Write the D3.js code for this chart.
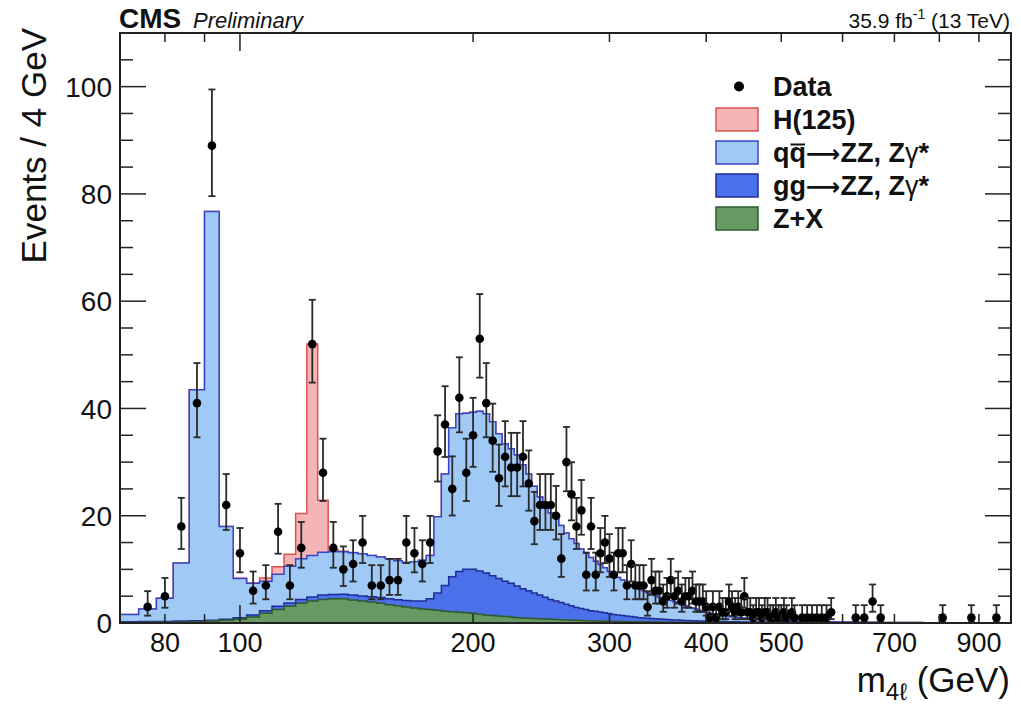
<!DOCTYPE html>
<html><head><meta charset="utf-8">
<script src="https://cdn.jsdelivr.net/npm/d3@7"></script>
<style>body{margin:0;background:#fff}svg{display:block}</style>
</head><body>
<svg id="chart" width="1021" height="706"></svg>
<script>
// ---- binning: 4 GeV bins starting at 70 GeV ----
const binStart = 70;
const binWidth = 4;

// ---- stacked MC (events / bin), first bin centre 72 GeV; missing entries = 0 ----
const qqZZ = [
 1.35,2.33,4.30,10.85,43.10,76.20,17.30,7.30,5.90,5.50,6.00,6.85,7.60,7.75,8.00,8.00,7.95,
 7.90,7.85,7.70,7.55,7.50,7.25,7.10,7.30,7.60,8.10,14.20,20.80,27.80,29.40,29.10,29.30,29.80,
 29.70,28.70,27.00,25.60,25.10,24.40,23.10,21.80,19.90,18.30,16.70,16.10,15.40,14.40,13.30,12.50,11.90,
 11.10,10.50,9.90,9.30,8.85,8.40,7.85,7.50,7.00,6.60,6.20,5.90,5.60,5.30,5.05,4.80,4.55,
 4.30,4.05,3.90,3.75,3.58,3.37,3.16,2.94,2.72,2.54,2.37,2.14,1.97,1.78,1.65,1.52,1.40,
 1.30,1.21,1.12,1.04,0.97,0.91,0.86,0.79,0.76,0.72,0.70,0.66,0.63,0.59,0.56,0.53,0.50,
 0.46,0.44,0.43,0.41,0.39,0.39,
 0.37,0.36,0.35,0.34,0.33,0.32,0.31,0.30,0.29,0.29,0.28,0.27,0.26,0.26,0.25,0.24,0.24,0.23,0.22,0.22,0.21,0.21,0.20,0.20,0.19,
 0.19,0.18,0.18,0.17,0.17,0.16,0.16,0.16,0.15,0.15,0.14,0.14,0.14,0.13,0.13,0.13,0.12,0.12,0.12,0.11,0.11,0.11,0.10,0.10,0.10,
 0.10,0.09,0.09,0.09,0.09,0.08,0.08,0.08,0.08,0.08,0.07,0.07,0.07,0.07,0.07,0.06,0.06,0.06,0.06,0.06,0.06,0.05,0.05,0.05,0.05,
 0.05,0.05,0.05,0.04,0.04,0.04,0.04,0.04,0.04,0.04,0.04,0.04,0.03,0.03,0.03,0.03,0.03,0.03,0.03,0.03,0.03,0.03,0.03,0.02,0.02,
 0.02,0.02,0.02,0.02,0.02,0.02,0.02,0.02,0.02,0.02,0.02,0.02,0.02,0.02,0.02,0.02,0.02,0.02,0.02,0.02,0.02,0.02
];
const ggZZ = [
 0.15,0.15,0.15,0.15,0.15,0.15,0.20,0.30,0.40,0.50,0.60,0.65,0.70,0.75,0.80,0.80,0.85,
 0.90,0.95,1.00,1.05,1.10,1.15,1.20,1.30,1.50,2.00,3.20,4.80,6.50,7.60,8.10,8.20,8.05,
 7.80,7.40,7.00,6.60,6.30,5.90,5.45,5.10,4.75,4.40,4.05,3.70,3.45,3.20,2.94,2.68,2.41,
 2.24,2.07,1.90,1.82,1.69,1.56,1.43,1.30,1.22,1.13,1.05,0.96,0.87,0.78,0.74,0.70,0.66,
 0.62,0.58,0.54,0.50,0.47,0.44,0.41,0.38,0.36,0.34,0.32,0.30,0.28,0.27,0.26,0.24,0.23,
 0.22,0.21,0.20,0.19,0.18,0.17,0.16,0.15,0.14,0.14,0.13,0.13,0.12,0.12,0.11,0.11,0.10,
 0.10,0.10,0.09,0.09,0.09,0.08
];
const zPlusX = [
 0.10,0.12,0.15,0.20,0.25,0.35,0.50,0.70,1.10,1.80,2.50,3.10,3.70,4.10,4.40,4.50,4.50,
 4.30,4.10,3.90,3.70,3.40,3.20,3.00,2.80,2.60,2.50,2.40,2.20,2.10,2.00,1.90,1.80,1.65,
 1.50,1.40,1.30,1.20,1.10,1.00,0.95,0.90,0.85,0.80,0.75,0.70,0.65,0.60,0.56,0.52,0.49,
 0.46,0.43,0.40,0.38,0.36,0.34,0.32,0.30,0.28,0.27,0.25,0.24,0.23,0.22,0.21,0.20,0.19,
 0.18,0.17,0.16,0.15,0.15,0.14,0.13,0.13,0.12,0.12,0.11,0.11,0.10,0.10,0.09,0.09,0.09,
 0.08,0.08,0.08,0.07,0.07,0.07,0.06,0.06,0.06,0.06,0.05,0.05,0.05,0.05,0.05,0.04,0.04,
 0.04,0.04,0.04,0.04,0.04,0.03
];
const higgs125 = [0,0,0,0,0,0,0,0.02,0.05,0.6,1.4,2.2,8.4,39.4,9.7,0.3,0.1,0.05];

// ---- data (bin centre, observed events) ----
const dataMass = [76,80,84,88,92,96,100,104,108,112,116,120,124,128,132,136,140,144,148,152,156,160,164,168,172,176,
 180,184,188,192,196,200,204,208,212,216,220,224,228,232,236,240,244,248,252,256,260,264,268,272,276,280,284,288,
 292,296,300,304,308,312,316,320,324,328,332,336,340,344,348,352,356,360,364,368,372,376,380,384,388,392,396,400,
 404,408,412,416,420,424,428,432,436,440,444,448,452,456,460,464,468,472,476,480,484,488,492,496,500,504,508,516,
 520,532,540,548,556,564,572,580,624,640,656,672,808,880,948];
const dataCount = [3,5,18,41,89,22,13,6,7,17,7,14,52,28,14,10,11,15,7,7,8,8,15,13,11,15,
 32,37,25,42,28,35,53,41,34,27,31,29,29,31,26,19,22,22,22,20,12,30,24,18,21,9,18,9,
 13,15,12,9,13,13,7,11,7,7,7,3,8,6,6,4,5,8,5,6,4,5,5,6,4,4,4,3,
 1,3,1,3,2,2,4,3,2,3,2,5,2,2,1,2,2,1,2,2,1,1,2,1,1,2,1,2,
 1,1,1,1,1,1,1,2,1,1,4,1,1,1,1];

// ---- axes ----
const xDomain = [70, 990];
const yDomain = [0, 110];
const xTickValues = [80,90,100,200,300,400,500,600,700,800,900];
const xTickLabels = [80,100,200,300,400,500,700,900];
const xMajorTicks = [100];
const yTickLabels = [0,20,40,60,80,100];

const legendLabels = ["Data","H(125)","qq\u27f6ZZ, Z\u03b3*","gg\u27f6ZZ, Z\u03b3*","Z+X"];
const colors = {
  higgs:{fill:"#f5b4b6", stroke:"#d9534f"},
  qq:{fill:"#a0c9f6", stroke:"#3a44c8"},
  gg:{fill:"#4a70ea", stroke:"#1f2c96"},
  zx:{fill:"#679a63", stroke:"#2f5a2c"}
};

const FONT = "'Liberation Sans', Arial, Helvetica, sans-serif";
const W = 1021, H = 706;
const L = 120, R = 1011, T = 33, B = 623;
const svg = d3.select("#chart");
svg.append("rect").attr("width",W).attr("height",H).attr("fill","#fff");

const x = d3.scaleLog().domain(xDomain).range([L,R]);
const y = d3.scaleLinear().domain(yDomain).range([B,T]);

svg.append("clipPath").attr("id","clip").append("rect")
  .attr("x",L).attr("y",T).attr("width",R-L).attr("height",B-T);
const plot = svg.append("g").attr("clip-path","url(#clip)");

const nBins = qqZZ.length;
const cumZX=[], cumGG=[], cumQQ=[], cumH=[];
for(let i=0;i<nBins;i++){
  const a = zPlusX[i]||0;
  const b = a + (ggZZ[i]||0);
  const c = b + (qqZZ[i]||0);
  const d = c + (higgs125[i]||0);
  cumZX.push(a); cumGG.push(b); cumQQ.push(c); cumH.push(d);
}
function stepPath(vals){
  let p = `M${x(binStart)},${y(0)}`;
  vals.forEach((v,i)=>{
    const lo = binStart + i*binWidth, hi = lo + binWidth;
    p += `L${x(lo)},${y(v)}L${x(hi)},${y(v)}`;
  });
  p += `L${x(binStart + vals.length*binWidth)},${y(0)}Z`;
  return p;
}
[[cumH,colors.higgs],[cumQQ,colors.qq],[cumGG,colors.gg],[cumZX,colors.zx]].forEach(([vals,c])=>{
  plot.append("path").attr("d",stepPath(vals)).attr("fill",c.fill)
    .attr("stroke",c.stroke).attr("stroke-width",1.5).attr("stroke-linejoin","miter");
});

// ---- data with Poisson (Gehrels) intervals ----
function lowErr(n){ if(n<=0) return 0; const t = 1 - 1/(9*n) - 1/(3*Math.sqrt(n)); return n*Math.pow(t,3); }
function upErr(n){ return n + Math.sqrt(n+0.75) + 1; }
const dg = svg.append("g");
dataMass.forEach((m,i)=>{
  const n = dataCount[i];
  const cx = x(m), lo = lowErr(n), hi = upErr(n);
  const y1 = y(lo), y2 = Math.max(y(hi), T);
  dg.append("line").attr("x1",cx).attr("x2",cx).attr("y1",y1).attr("y2",y2)
    .attr("stroke","#2a2a2a").attr("stroke-width",1.8);
  [y1,y2].forEach(yy=>dg.append("line").attr("x1",cx-3.5).attr("x2",cx+3.5).attr("y1",yy).attr("y2",yy)
    .attr("stroke","#2a2a2a").attr("stroke-width",1.8));
  dg.append("circle").attr("cx",cx).attr("cy",y(n)).attr("r",4.3).attr("fill","#000");
});

// ---- frame and ticks ----
const ax = svg.append("g").attr("stroke","#222");
xTickValues.forEach(v=>{
  const len = xMajorTicks.includes(v) ? 18 : 9;
  ax.append("line").attr("x1",x(v)).attr("x2",x(v)).attr("y1",B).attr("y2",B-len).attr("stroke-width",1.5);
  ax.append("line").attr("x1",x(v)).attr("x2",x(v)).attr("y1",T).attr("y2",T+len).attr("stroke-width",1.5);
});
for(let v=0; v<=yDomain[1]; v+=5){
  const len = (v%20===0) ? 26 : 13;
  ax.append("line").attr("x1",L).attr("x2",L+len).attr("y1",y(v)).attr("y2",y(v)).attr("stroke-width",1.5);
  ax.append("line").attr("x1",R).attr("x2",R-len).attr("y1",y(v)).attr("y2",y(v)).attr("stroke-width",1.5);
}
svg.append("rect").attr("x",L).attr("y",T).attr("width",R-L).attr("height",B-T)
  .attr("fill","none").attr("stroke","#222").attr("stroke-width",2);

const tl = svg.append("g").attr("font-family",FONT).attr("fill","#111");
xTickLabels.forEach(v=>{
  tl.append("text").attr("x",x(v)).attr("y",652).attr("text-anchor","middle")
    .attr("font-size",27).text(v);
});
yTickLabels.forEach(v=>{
  tl.append("text").attr("x",112).attr("y",y(v)).attr("dy","0.36em").attr("text-anchor","end")
    .attr("font-size",28).text(v);
});

// axis titles
svg.append("text").attr("font-family",FONT).attr("font-size",35).attr("fill","#111")
  .attr("text-anchor","end").attr("transform","translate(46,28) rotate(-90)")
  .text("Events / 4 GeV");
const xt = svg.append("text").attr("font-family",FONT).attr("font-size",35).attr("fill","#111")
  .attr("text-anchor","end").attr("x",1010).attr("y",692);
xt.append("tspan").text("m");
xt.append("tspan").attr("font-size",24).attr("dy",8).text("4\u2113");
xt.append("tspan").attr("dy",-8).text(" (GeV)");

// header
svg.append("text").attr("font-family",FONT).attr("font-weight","bold").attr("font-size",28)
  .attr("x",119).attr("y",28).attr("fill","#111").text("CMS");
svg.append("text").attr("font-family",FONT).attr("font-style","italic").attr("font-size",22)
  .attr("x",193).attr("y",28).attr("fill","#111").text("Preliminary");
const lumi = svg.append("text").attr("font-family",FONT).attr("font-size",21)
  .attr("x",1010).attr("y",28).attr("text-anchor","end").attr("fill","#111");
lumi.append("tspan").text("35.9 fb");
lumi.append("tspan").attr("font-size",14).attr("dy",-9).text("-1");
lumi.append("tspan").attr("dy",9).text(" (13 TeV)");

// ---- legend ----
const lg = svg.append("g").attr("font-family",FONT);
const legY = [86.5, 119.5, 152.5, 185.5, 218.5];
const boxColors = [null, colors.higgs, colors.qq, colors.gg, colors.zx];
legendLabels.forEach((lab,i)=>{
  const cy = legY[i];
  if(i===0){
    lg.append("circle").attr("cx",739).attr("cy",cy).attr("r",5).attr("fill","#000");
  } else {
    lg.append("rect").attr("x",716).attr("y",cy-11.5).attr("width",42).attr("height",23)
      .attr("fill",boxColors[i].fill).attr("stroke",boxColors[i].stroke).attr("stroke-width",1.5);
  }
  const t = lg.append("text").attr("x",773).attr("y",cy+9.5).attr("font-size",27)
    .attr("font-weight","bold").attr("fill","#111");
  // split on arrow and gamma so they can use suitable glyphs
  const parts = lab.split(/(\u27f6|\u03b3)/);
  parts.forEach(p=>{
    if(!p) return;
    const ts = t.append("tspan").text(p);
    if(p==="\u27f6") ts.attr("font-family","'DejaVu Sans', sans-serif").attr("font-weight","bold").attr("font-size",24);
    if(p==="\u03b3") ts.attr("font-weight","normal");
  });
  if(i===2){
    const s = t.node().getStartPositionOfChar(1).x, e = t.node().getEndPositionOfChar(1).x;
    lg.append("line").attr("x1",s+1).attr("x2",e-1).attr("y1",cy-8).attr("y2",cy-8)
      .attr("stroke","#111").attr("stroke-width",2);
  }
});
</script>
</body></html>
